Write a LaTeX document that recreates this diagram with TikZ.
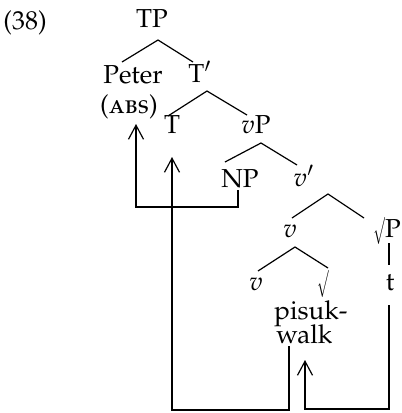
\documentclass[tikz,border=0pt]{standalone}
\usepackage[T1]{fontenc}
\usepackage[sc]{mathpazo}
\usepackage{tikz}
\usetikzlibrary{positioning, arrows.meta}
\newcommand{\rootsym}{\scalebox{0.5}[1]{$\surd$}}

\begin{document}
\begin{tikzpicture}[x=0.5pt, y=-0.5pt,
    font=\fontsize{13}{13}\selectfont,
    cat/.style={anchor=base, inner sep=1pt},
    branch/.style={line width=0.6pt},
    move/.style={line width=0.6pt, -{Straight Barb[length=7pt, width=7.5pt]}}]
\useasboundingbox (0,0) rectangle (402,413);

% example number
\node[cat] (ex) at (25,29) {(38)};

% the tree
\node[cat] (TP) at (152,27) {TP};
\node[cat] (Peter) at (133,83) {Peter};
\node[cat] (abs) at (129,113) {(\textsc{abs})};
\node[cat] (Tbar) at (200,82) {T$'$};
\node[cat] (T) at (172,133) {T};
\node[cat] (vP) at (256,133) {$v$P};
\node[cat] (NP) at (240,187) {NP};
\node[cat] (vbar) at (304,186) {$v'$};
\node[cat] (vmid) at (290,237) {$v$};
\node[cat, anchor=base west] (rootP) at (371,237) {\rootsym P};
\node[cat] (vlow) at (256,290) {$v$};
\node[cat] (root) at (323,290) {\rootsym};
\node[cat] (t) at (390,290) {t};
\node[cat, anchor=base west] (pisuk) at (272,319) {pisuk-};
\node[cat, anchor=base west] (walk) at (274,343) {walk};

% branches
\draw[branch] ([shift={(-11,-21)}]Peter.base) -- ([shift={(6,13)}]TP.base) -- ([shift={(-7,-20)}]Tbar.base);
\draw[branch] ([shift={(-4,-17)}]T.base) -- ([shift={(7,9)}]Tbar.base) -- ([shift={(-9,-18)}]vP.base);
\draw[branch] ([shift={(-15,-25)}]NP.base) -- ([shift={(5,10)}]vP.base) -- ([shift={(-7,-21)}]vbar.base);
\draw[branch] ([shift={(2,-19)}]vmid.base) -- ([shift={(24,8)}]vbar.base) -- ([shift={(-7,-19)}]rootP.base west);
\draw[branch] ([shift={(2,-19)}]vlow.base) -- ([shift={(5,10)}]vmid.base) -- ([shift={(5,-22)}]root.base);
\draw[branch] ([shift={(18,6)}]rootP.base west) -- ([shift={(-1,-25)}]t.base);

% movement arrows
\draw[move] ([shift={(-2,3)}]NP.base) -- ++(0,17) -| ([shift={(7,11)}]abs.base);
\draw[move] ([shift={(15,3)}]walk.base west) -- ++(0,64) -| ([shift={(0,24)}]T.base);
\draw[move] ([shift={(-1,15)}]t.base) -- ++(0,104) -| ([shift={(31,17)}]walk.base west);
\end{tikzpicture}
\end{document}
